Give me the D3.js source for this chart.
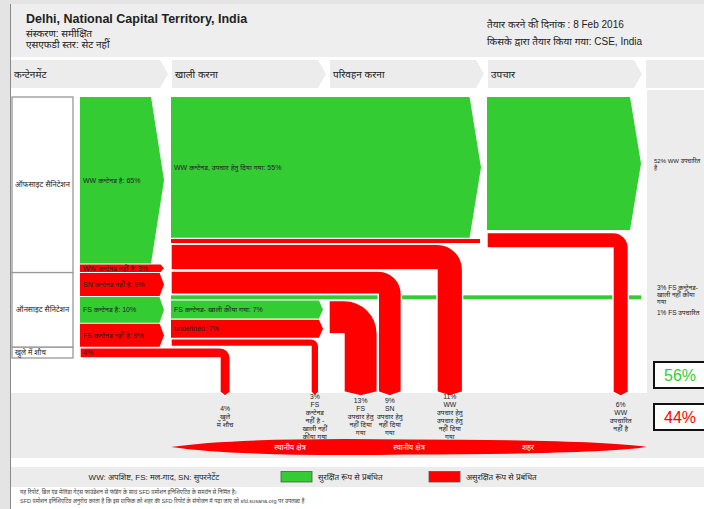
<!DOCTYPE html>
<html><head><meta charset="utf-8">
<script src="https://cdn.jsdelivr.net/npm/d3@7"></script>
<style>
html,body{margin:0;padding:0;background:#fff;}
svg{display:block;font-family:"Liberation Sans",Arial,"Noto Sans",sans-serif;}
</style></head><body>
<svg id="c" width="704" height="509"></svg>
<script>
// ---------------- DATA ----------------
const title = "Delhi, National Capital Territory, India";
const headerLeft = ["संस्करण: समीक्षित", "एसएफडी स्तर: सेट नहीं"];
const headerRight = ["तैयार करने की दिनांक : 8 Feb 2016", "किसके द्वारा तैयार किया गया: CSE, India"];
const stages = ["कन्टेनमेंट", "खाली करना", "परिवहन करना", "उपचार", ""];
const systemLabels = ["ऑफसाइट सैनिटेशन", "ऑनसाइट सैनिटेशन", "खुले में शौच"];
const systemGroups = [[0, 1], [2, 3, 4], [5]];
const containmentLabels = ["WW कन्टेनड है: 65%", "WW कन्टेनड नहीं है: 3%", "SN कन्टेनड नहीं है: 9%", "FS कन्टेनड है: 10%", "FS कन्टेनड नहीं है: 9%", "4%"];
const containmentValues = [65, 3, 9, 10, 9, 4];
const containmentSafe = [1, 0, 0, 1, 0, 0];
const emptyingLabels = ["WW कन्टेनड, उपचार हेतु दिया गया: 55%", "", "", "", "", "FS कन्टेनड- खाली कीया गया: 7%", "undefined: 7%", "", ""];
const emptyingValues = [55, 1.5, 10, 9, 1, 7, 7, 3, 4];
const emptyingSafe = [1, 0, 0, 0, 1, 1, 0, 0, 0];
const transportValues = [13];           // FS not delivered to treatment
const treatmentValues = [52, 6];        // WW treated, WW not treated
const treatmentSafe = [1, 0];
const rightLabels = [["52% WW उपचारित", "है"], ["3% FS कन्टेनड-", "खाली नहीं कीया", "गया"], ["1% FS उपचारित"]];
const outcomeValues = [4, 3, 13, 9, 10, 6];
const outcomeLabels = [["4%", "खुले", "में शौच"], ["3%", "FS", "कन्टेनड", "नहीं है -", "खाली नहीं", "कीया गया"], ["13%", "FS", "उपचार हेतु", "नहीं दिया", "गया"], ["9%", "SN", "उपचार हेतु", "नहीं दिया", "गया"], ["11%", "WW", "उपचार हेतु", "उपचार हेतु", "नहीं दिया", "गया"], ["6%", "WW", "उपचारित", "नहीं है"]];
const zoneLabels = ["स्थानीय क्षेत्र", "स्थानीय क्षेत्र", "शहर"];
const safeShare = 56, unsafeShare = 44;
const legendKey = "WW: अपशिष्ट, FS: मल-गाद, SN: सुपरनेटेंट";
const legendItems = ["सुरक्षित रूप से प्रबंधित", "असुरक्षित रूप से प्रबंधित"];
const footer = ["यह रिपोर्ट, बिल एंड मेलिंडा गेट्स फाउंडेशन से फंडिंग के साथ SFD प्रमोशन इनिशिएटिव के समर्थन से निर्मित है।",
  "SFD प्रमोशन इनिशिएटिव अनुरोध करता है कि इस ग्राफिक को शहर की SFD रिपोर्ट के संयोजन में पढ़ा जाए जो sfd.susana.org पर उपलब्ध है"];

// ---------------- LAYOUT ----------------
const svg = d3.select("#c");
const W = 704, H = 509;
const RED = "#ff0000", GREEN = "#33cc33", GREY = "#ececec";
const col = s => s ? GREEN : RED;
const k = d3.scaleLinear().domain([0, 100]).range([0, 256]);
const xStage = d3.scaleLinear().domain([1, 4]).range([171, 645]);
const xCont = 80;
const yTop = 97, yBot = 358, yPipe = 392, tip = 4;

function stackFit(values, minT) {
  const t = values.map(v => Math.max(k(v), minT));
  const g = (yBot - yTop - d3.sum(t)) / (values.length - 1);
  let y = yTop;
  return t.map(h => { const r = {y0: y, y1: y + h, h}; y += h + g; return r; });
}
function chevron(x0, x1, y0, y1) {
  const d = 3 + (y1 - y0) * 0.06;
  return `M${x0},${y0}L${x1 - d},${y0}L${x1},${(y0 + y1) / 2}L${x1 - d},${y1}L${x0},${y1}Z`;
}
function bend(x0, y0, h, xd, w) {
  const r = Math.min(w, h), xo = xd + w;
  return `M${x0},${y0}L${xo - r},${y0}A${r},${r} 0 0 1 ${xo},${y0 + r}L${xo},${yPipe}L${xd + w / 2},${yPipe + tip}L${xd},${yPipe}L${xd},${y0 + h}L${x0},${y0 + h}Z`;
}

// backgrounds
svg.append("rect").attr("width", W).attr("height", H).attr("fill", "#e4e4e4");
svg.append("rect").attr("x", 10).attr("y", 4).attr("width", W - 10).attr("height", H - 4).attr("fill", "#fff");
svg.append("line").attr("x1", 10.5).attr("x2", 10.5).attr("y1", 4).attr("y2", H).attr("stroke", "#888").attr("stroke-width", 1);
svg.append("rect").attr("x", 11).attr("y", 4).attr("width", W - 11).attr("height", 53).attr("fill", "#eeeeee");
svg.append("rect").attr("x", xStage(4) + 2).attr("y", 90).attr("width", W - xStage(4)).attr("height", 304).attr("fill", GREY);
svg.append("rect").attr("x", 11).attr("y", 393).attr("width", W - 11).attr("height", 65).attr("fill", GREY);
svg.append("rect").attr("x", 11).attr("y", 467).attr("width", W - 11).attr("height", 20).attr("fill", GREY);

// header text
svg.append("text").attr("x", 26).attr("y", 19).attr("dominant-baseline", "central")
  .attr("font-size", 12.5).attr("font-weight", "bold").attr("fill", "#222").text(title);
headerLeft.forEach((t, i) => svg.append("text").attr("x", 26).attr("y", 33 + i * 11).attr("dominant-baseline", "central")
  .attr("font-size", 10).attr("fill", "#222").text(t));
headerRight.forEach((t, i) => svg.append("text").attr("x", 487).attr("y", 24 + i * 17).attr("dominant-baseline", "central")
  .attr("font-size", 10).attr("fill", "#222").text(t));

// stage chevrons
stages.forEach((s, i) => {
  const x0 = i === 0 ? 11 : xStage(i) + 1;
  const x1 = i === 4 ? W + 20 : xStage(i + 1) - 3;
  svg.append("path").attr("d", `M${x0},60L${x1 - 8},60L${x1},74L${x1 - 8},88L${x0},88Z`).attr("fill", GREY);
  svg.append("text").attr("x", x0 + 3).attr("y", 74).attr("dominant-baseline", "central")
    .attr("font-size", 10).attr("fill", "#222").text(s);
});

// containment stack
const cs = stackFit(containmentValues, 0);
// system label boxes
systemGroups.forEach((g, i) => {
  const top = i === 0 ? cs[g[0]].y0 : (cs[g[0] - 1].y1 + cs[g[0]].y0) / 2;
  const bot = i === systemGroups.length - 1 ? cs[g[g.length - 1]].y1 : (cs[g[g.length - 1]].y1 + cs[g[g.length - 1] + 1].y0) / 2;
  svg.append("rect").attr("x", 12).attr("y", top).attr("width", 61).attr("height", bot - top)
    .attr("fill", "#fff").attr("stroke", "#999").attr("stroke-width", 1.3);
  if (i < 2) svg.append("text").attr("x", 42.5).attr("y", (top + bot) / 2).attr("text-anchor", "middle").attr("dominant-baseline", "central")
    .attr("font-size", 7.6).attr("fill", "#222").text(systemLabels[i]);
  else svg.append("text").attr("x", 15).attr("y", (top + bot) / 2).attr("dominant-baseline", "central")
    .attr("font-size", 7.3).attr("fill", "#222").text(systemLabels[i]);
});
containmentValues.forEach((v, i) => {
  if (i === 5) return; // open defecation drawn as a continuous bend
  svg.append("path").attr("d", chevron(xCont, xStage(1) - 7, cs[i].y0, cs[i].y1)).attr("fill", col(containmentSafe[i]));
});

// emptying stack
const es = stackFit(emptyingValues, 4);
// treatment stack
let ty = yTop;
const ts = treatmentValues.map(v => { const r = {y0: ty, y1: ty + k(v), h: k(v)}; ty += k(v) + 2.5; return r; });

// green WW to treatment
svg.append("path").attr("d", chevron(xStage(1), xStage(3) - 6, es[0].y0, es[0].y1)).attr("fill", GREEN);
// thin red WW strip
svg.append("rect").attr("x", xStage(1)).attr("y", es[1].y0).attr("width", xStage(3) - 7 - xStage(1)).attr("height", es[1].h).attr("fill", RED);
// green 1% FS treated strip
svg.append("rect").attr("x", xStage(1)).attr("y", es[4].y0).attr("width", xStage(4) - 4 - xStage(1)).attr("height", es[4].h).attr("fill", GREEN);
// FS emptied / undefined
[5, 6].forEach(i => svg.append("path").attr("d", chevron(xStage(1), xStage(2) - 6, es[i].y0, es[i].y1)).attr("fill", col(emptyingSafe[i])));
// treatment green
svg.append("path").attr("d", chevron(xStage(3), xStage(4) - 4, ts[0].y0, ts[0].y1)).attr("fill", GREEN);

// drops (vertical pipes)
const wOut = outcomeValues.map(v => k(v));
const dropX = [];
dropX[0] = xStage(1) + 49;
dropX[1] = xStage(2) - 18;
dropX[2] = xStage(2) + 15;
dropX[3] = dropX[2] + wOut[2] + 1;
dropX[4] = xStage(2) + 108;
dropX[5] = xStage(3) + 126;
const bends = [
  {x0: xCont, y0: cs[5].y0, h: cs[5].h, i: 0},
  {x0: xStage(1), y0: es[7].y0, h: es[7].h, i: 1},
  {x0: xStage(2), y0: es[5].y0, h: k(transportValues[0]), i: 2},
  {x0: xStage(1), y0: es[3].y0, h: es[3].h, i: 3},
  {x0: xStage(1), y0: es[2].y0, h: es[2].h, i: 4},
  {x0: xStage(3), y0: ts[1].y0, h: ts[1].h, i: 5}
];
bends.forEach(b => {
  svg.append("path").attr("d", bend(b.x0, b.y0, b.h, dropX[b.i], wOut[b.i]))
    .attr("fill", RED).attr("stroke", "#fff").attr("stroke-width", 1.4);
});

// bar labels
containmentLabels.forEach((t, i) => svg.append("text").attr("x", xCont + 3).attr("y", (cs[i].y0 + cs[i].y1) / 2)
  .attr("dominant-baseline", "central").attr("font-size", 7).attr("fill", "#222").text(t));
emptyingLabels.forEach((t, i) => { if (t) svg.append("text").attr("x", xStage(1) + 3).attr("y", (es[i].y0 + es[i].y1) / 2)
  .attr("dominant-baseline", "central").attr("font-size", 7).attr("fill", "#222").text(t); });

// right labels
const rlY = [(ts[0].y0 + ts[0].y1) / 2 - 3, es[3].y0 + 16, es[4].y0 + 17];
const rlSize = [6, 6.5, 6.5];
rightLabels.forEach((lines, j) => lines.forEach((t, li) => svg.append("text").attr("x", xStage(4) + (j === 0 ? 9 : 12)).attr("y", rlY[j] + li * 7)
  .attr("dominant-baseline", "central").attr("font-size", rlSize[j]).attr("fill", "#222").text(t)));

// outcome labels
outcomeLabels.forEach((lines, i) => {
  const cx = dropX[i] + wOut[i] / 2;
  const y0 = 416 - (lines.length - 1) * 8 / 2;
  lines.forEach((t, li) => svg.append("text").attr("x", cx).attr("y", y0 + li * 8).attr("text-anchor", "middle")
    .attr("dominant-baseline", "central").attr("font-size", 6.8).attr("fill", "#222").text(t));
});

// zone lens
svg.append("path").attr("d", "M171,447Q240,437 409,439.5Q600,440 647,447Q600,454 409,454.5Q240,457 171,447Z").attr("fill", RED);
const zoneX = [290, 409, 528];
zoneLabels.forEach((t, i) => svg.append("text").attr("x", zoneX[i]).attr("y", 447).attr("text-anchor", "middle")
  .attr("dominant-baseline", "central").attr("font-size", 7.5).attr("fill", "#fff").text(t));

// percentage boxes
[[safeShare, GREEN, 375], [unsafeShare, RED, 417]].forEach(([v, c, cy]) => {
  svg.append("rect").attr("x", 654).attr("y", cy - 13).attr("width", 60).attr("height", 26)
    .attr("fill", "#fff").attr("stroke", "#111").attr("stroke-width", 2);
  svg.append("text").attr("x", 680).attr("y", cy).attr("text-anchor", "middle").attr("dominant-baseline", "central")
    .attr("font-size", 16).attr("fill", c).text(v + "%");
});

// legend
svg.append("text").attr("x", 154).attr("y", 477).attr("text-anchor", "middle").attr("dominant-baseline", "central")
  .attr("font-size", 8).attr("fill", "#222").text(legendKey);
[[GREEN, 281, 318], [RED, 429, 466]].forEach(([c, bx, tx], i) => {
  svg.append("rect").attr("x", bx).attr("y", 471.5).attr("width", 31).attr("height", 10.5).attr("fill", c).attr("stroke", "#555").attr("stroke-width", 0.8);
  svg.append("text").attr("x", tx).attr("y", 477).attr("dominant-baseline", "central").attr("font-size", 8).attr("fill", "#222").text(legendItems[i]);
});
footer.forEach((t, i) => svg.append("text").attr("x", 20).attr("y", 492 + i * 9).attr("dominant-baseline", "central")
  .attr("font-size", 5.5).attr("fill", "#444").text(t));
</script>
</body></html>
